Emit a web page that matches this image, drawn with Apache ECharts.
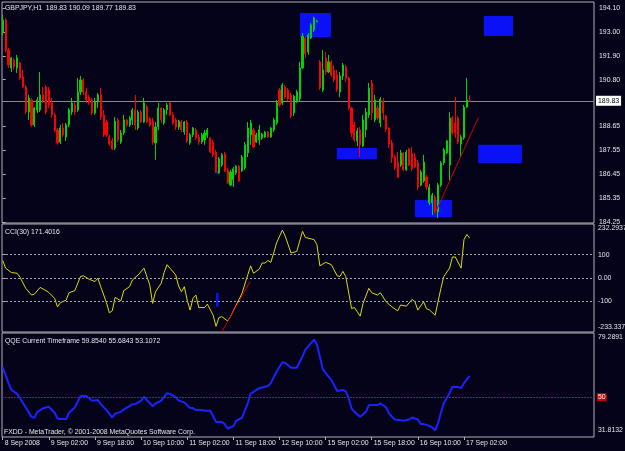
<!DOCTYPE html>
<html><head><meta charset="utf-8">
<script src="https://cdn.jsdelivr.net/npm/echarts@6/dist/echarts.min.js"></script>
<style>html,body{margin:0;padding:0;background:#04031a;}#c{width:625px;height:451px;}</style>
</head><body><div id="c"></div>
<script>
// ---- price data (GBPJPY H1), one entry per bar ----
const opens = [
192.95,193.55,192.17,191.34,191.71,191.34,191.57,190.93,190.46,189.31,
189.87,188.72,189.41,189.41,190.10,190.46,190.33,189.73,189.18,188.49,
187.93,188.58,188.16,188.72,189.31,189.64,189.41,190.23,190.79,190.23,
190.00,189.87,189.27,189.77,190.10,189.18,188.85,188.16,187.98,187.66,
188.95,187.93,188.35,188.95,188.72,188.95,189.41,188.58,189.31,188.85,
189.54,189.00,188.90,187.89,188.62,189.50,188.81,189.41,189.73,189.18,
188.95,188.62,188.85,188.39,188.85,187.89,188.26,188.49,188.16,187.93,
188.03,188.26,188.12,187.93,187.47,186.51,186.87,187.38,186.65,185.95,
186.20,186.51,186.82,186.60,186.74,187.43,188.26,188.49,187.93,188.03,
188.12,188.16,188.39,188.16,188.49,188.81,190.33,189.73,190.46,190.33,
190.10,189.27,189.82,189.91,191.34,192.72,192.07,192.72,193.09,193.46,
191.62,190.33,191.80,191.15,191.62,191.25,191.02,190.23,190.97,191.40,
190.88,189.50,188.72,187.98,188.49,187.75,188.49,189.18,190.65,188.95,
189.50,188.81,189.82,189.13,188.58,187.89,187.24,187.01,186.87,187.43,
186.65,187.61,187.40,187.24,186.97,185.95,186.14,186.32,185.13,185.13,
185.40,184.71,185.95,186.97,187.43,186.87,189.04,188.81,189.04,187.84,
188.12,189.54,189.83];
const closes = [
193.55,192.17,191.48,191.80,191.40,191.80,190.88,190.46,189.31,189.96,
188.72,189.50,189.87,190.10,189.87,189.31,189.64,189.18,188.49,187.89,
188.58,188.26,188.72,189.41,189.73,189.31,190.23,190.79,190.23,189.87,
189.77,189.27,189.77,190.10,189.08,188.26,188.26,187.84,187.61,188.90,
188.03,188.35,188.95,188.72,189.04,189.41,188.72,189.31,188.85,189.73,
188.85,188.72,187.93,188.62,189.50,188.95,189.41,189.64,189.18,188.81,
188.62,188.90,188.49,188.85,187.98,188.26,188.58,188.12,187.93,188.26,
188.35,188.49,187.47,187.34,186.55,187.15,187.34,186.60,186.05,186.55,
186.70,186.82,186.14,187.24,187.80,188.58,188.81,187.70,188.26,188.49,
188.30,188.39,188.16,188.58,188.95,189.73,189.64,190.56,190.00,189.91,
189.13,190.05,190.23,191.34,192.80,191.99,192.86,193.32,193.64,193.50,
190.42,191.25,191.15,191.62,191.02,190.79,190.33,190.97,191.48,190.88,
189.50,188.35,188.03,188.44,187.80,188.95,189.31,190.42,189.27,189.87,
189.04,189.91,189.27,188.53,187.84,187.20,186.74,186.32,187.43,186.65,
187.47,186.87,186.70,186.78,185.86,186.55,187.01,185.86,185.86,185.49,
184.75,185.95,186.97,187.57,187.98,189.04,188.35,188.35,187.93,188.16,
189.54,189.87,189.83];
const lows = [
192.86,192.07,191.34,191.15,191.25,191.11,190.79,190.42,189.22,188.95,
188.62,188.62,189.27,189.31,189.73,189.22,189.50,189.04,188.39,187.80,
187.84,188.16,187.98,188.62,189.18,189.18,189.31,190.10,190.10,189.73,
189.64,189.18,189.18,189.50,188.95,188.16,188.16,187.75,187.57,187.57,
187.93,187.84,188.26,188.62,188.62,188.72,188.49,188.49,188.81,188.81,
188.81,188.62,187.80,187.11,188.49,188.81,188.72,189.18,189.13,188.72,
188.49,188.49,188.39,188.26,187.89,187.80,188.16,188.03,187.80,187.84,
187.80,188.12,187.43,187.24,186.51,186.46,186.78,186.55,186.00,185.90,
185.86,186.41,186.09,186.55,186.65,187.24,187.80,187.66,187.89,187.80,
188.03,188.12,188.12,188.12,188.39,188.72,189.54,189.64,189.91,189.82,
189.04,189.13,189.73,189.82,191.30,191.80,191.94,192.68,193.00,193.46,
190.33,190.23,191.02,191.11,190.93,190.69,190.23,190.00,190.79,190.69,
189.41,188.16,187.93,187.75,187.24,187.70,188.16,189.04,188.95,188.85,
188.95,188.62,188.95,188.39,187.66,186.97,186.65,186.28,186.78,186.60,
186.60,186.82,186.60,186.74,185.72,185.90,186.05,185.72,185.03,184.57,
184.66,184.43,185.86,186.87,187.38,186.18,188.26,188.12,187.84,187.24,
188.03,189.50,189.77];
const highs = [
193.78,193.64,192.26,191.85,191.80,191.94,191.62,191.25,190.56,190.10,
189.96,189.54,190.00,191.15,190.46,190.56,190.46,189.96,189.27,188.58,
188.72,188.81,188.81,189.50,189.96,189.77,190.88,190.97,190.88,190.42,
190.10,189.96,189.96,190.19,190.42,189.41,188.95,188.26,188.12,189.08,
189.04,188.49,189.18,189.00,189.13,189.50,190.10,189.41,189.41,189.96,
189.64,189.08,189.04,188.85,189.73,189.54,189.50,189.73,189.77,189.31,
189.04,188.95,188.95,188.90,188.95,188.35,188.62,188.58,188.26,188.35,
188.49,188.58,188.16,188.03,187.57,187.24,187.43,187.47,186.74,186.65,
186.78,186.87,186.87,187.34,187.93,188.85,188.95,188.58,188.35,188.72,
188.35,188.44,188.44,188.62,189.04,189.87,190.42,190.65,190.56,190.42,
190.19,190.10,190.33,191.62,192.95,192.77,192.95,193.40,193.70,193.55,
191.71,192.17,192.07,191.94,191.71,191.48,191.25,191.15,191.57,191.48,
190.93,189.54,188.85,188.58,188.62,189.18,189.50,190.65,190.79,190.10,
189.64,190.00,189.96,189.18,188.62,188.03,187.34,187.47,187.57,187.47,
187.57,187.66,187.70,187.43,187.11,186.65,187.34,186.41,186.00,185.59,
185.49,186.05,187.06,187.66,188.03,189.31,189.13,190.00,189.13,188.26,
189.64,190.88,190.09];
const lastPrice = 189.83;

// ---- CCI(30) read points [bar, value] ----
const cciPoints = [[0,75],[1,42],[3,23],[5,20],[6,3],[8,-45],[10,-74],[11,-70],[13,-41],[15,-55],[16,-63],[18,-88],[19,-125],[20,-107],[22,-96],[23,-64],[25,-55],[27,6],[28,9],[30,-6],[32,-16],[33,-1],[34,-38],[36,-107],[37,-151],[38,-142],[39,-84],[41,-99],[42,-55],[44,-38],[45,-9],[47,13],[49,42],[51,-30],[52,-110],[53,-60],[55,-23],[56,23],[57,57],[58,42],[60,13],[61,-35],[62,-60],[63,-38],[64,-96],[65,-139],[66,-88],[67,-74],[68,-128],[70,-128],[71,-113],[73,-161],[74,-209],[75,-171],[76,-167],[78,-186],[79,-167],[81,-117],[83,-67],[85,13],[86,52],[87,20],[89,38],[90,64],[91,64],[92,75],[93,67],[94,107],[95,151],[97,206],[98,180],[100,107],[102,114],[104,201],[105,174],[107,168],[108,165],[109,143],[110,52],[112,67],[114,57],[116,9],[117,6],[118,28],[119,6],[121,-132],[122,-128],[124,-165],[125,-110],[127,-45],[128,-64],[130,-74],[131,-64],[133,-103],[135,-125],[137,-142],[138,-117],[140,-122],[142,-93],[143,-103],[144,-139],[146,-103],[147,-133],[148,-138],[150,-161],[151,-103],[152,-45],[153,6],[155,42],[156,90],[157,90],[159,42],[160,165],[161,187],[162,171]];
const cciLevels = [100, 0, -100];

// ---- QQE read points [bar, value] ----
const qqePoints = [[0,63.7],[2,56.4],[3,53.3],[5,51.5],[6,49.5],[8,45.3],[10,41.0],[11,40.6],[12,43.3],[14,44.9],[16,45.6],[18,42.9],[19,40.3],[20,40.0],[22,40.0],[23,42.9],[25,45.3],[27,50.5],[28,50.5],[29,50.5],[31,48.4],[33,48.7],[34,46.8],[36,44.1],[38,40.7],[39,42.5],[41,43.3],[42,44.4],[44,45.9],[45,46.8],[46,46.8],[48,48.4],[49,50.2],[50,48.7],[52,45.9],[53,47.1],[55,48.4],[57,51.8],[58,51.5],[60,50.0],[61,48.4],[63,47.6],[65,45.0],[66,45.0],[67,44.1],[69,44.1],[70,43.8],[72,43.8],[73,41.3],[74,38.7],[76,38.7],[77,37.7],[78,35.7],[80,36.7],[81,39.2],[83,40.6],[85,47.2],[86,51.6],[87,52.4],[89,54.1],[92,55.1],[93,56.4],[95,61.7],[97,65.9],[98,65.6],[100,63.4],[102,63.4],[104,68.6],[105,71.7],[107,74.8],[108,76.3],[109,74.0],[110,68.6],[111,62.8],[113,59.4],[114,57.9],[116,52.8],[118,53.3],[119,52.6],[120,49.5],[121,44.9],[122,43.3],[124,41.0],[125,42.2],[126,43.3],[127,46.4],[128,46.4],[130,46.4],[131,47.2],[133,45.3],[134,42.5],[136,39.8],[138,39.5],[139,39.2],[141,39.8],[142,40.7],[144,39.8],[145,37.7],[146,37.7],[148,36.9],[149,36.1],[150,34.9],[151,38.0],[152,43.0],[153,47.2],[155,51.8],[156,54.8],[158,54.6],[159,54.2],[160,56.4],[162,59.7]];
const qqeLevel = 50;

// ---- analyst drawings (bar, price) ----
const boxBars   = [[103.1,113.9],[166.9,177.0],[115.9,129.8],[164.9,180.1],[143.0,155.8],[74.1,75.0]];
const boxPrices = [[193.87,192.77],[193.73,192.81],[187.66,187.15],[187.80,186.97],[185.26,184.48],[186.60,186.46]];
const trendBars = [149.95, 165.0];
const trendPrices = [184.65, 189.06];
const cciTrendBars = [76.0, 85.8];
const cciTrendValues = [-233, -16];
const cciMarkBars = [74.0, 74.9];
const cciMarkValues = [-64, -125];

// ---- axis ticks ----
const priceTicks = [184.25,185.35,186.45,187.55,188.65,190.80,191.90,193.00,194.10];
const cciRange = [-233.3372, 232.2937];
const cciLabelTexts = ['232.2937','100','0.00','-100','-233.3372'];
const qqeRange = [31.8132, 79.2891];
const qqeLabelTexts = ['79.2891','31.8132'];
const timeTickBars = [0,16,32,48,64,80,96,112,128,144,160];
const timeTickLabels = ['8 Sep 2008','9 Sep 02:00','9 Sep 18:00','10 Sep 10:00','11 Sep 02:00','11 Sep 18:00','12 Sep 10:00','15 Sep 02:00','15 Sep 18:00','16 Sep 10:00','17 Sep 02:00'];

const FONT = 'Liberation Sans';
const FS = 6.9;
const TXT = '#e6e6e6';
const BORDER = '#b0b0b0';
const xMin = -0.243, xMax = 205.1;

const chart = echarts.init(document.getElementById('c'), null, {renderer:'canvas'});
const candleData = opens.map((o,i)=>[i, o, closes[i], lows[i], highs[i]]);

const gridBase = {left:2, width:592, show:true, borderColor:BORDER, borderWidth:1, backgroundColor:'transparent', outerBoundsMode:'none', containLabel:false};
const hiddenX = (g)=>({type:'value', gridIndex:g, min:xMin, max:xMax, show:false});

const option = {
  backgroundColor:'#04031a',
  animation:false,
  grid:[
    Object.assign({top:2, height:221}, gridBase),
    Object.assign({top:224, height:108}, gridBase),
    Object.assign({top:333, height:104}, gridBase)
  ],
  xAxis:[
    hiddenX(0), hiddenX(1),
    {type:'value', gridIndex:2, min:xMin, max:xMax,
      axisLine:{show:false}, splitLine:{show:false},
      axisTick:{show:true, customValues:timeTickBars, length:3, lineStyle:{color:BORDER}},
      axisLabel:{show:true, customValues:timeTickBars, color:TXT, fontFamily:FONT, fontSize:FS,
        align:'left', margin:3, padding:[0,0,0,2],
        formatter:(v)=>{const k=timeTickBars.indexOf(Math.round(v)); return k>=0?timeTickLabels[k]:'';}}
    }
  ],
  yAxis:[
    {type:'value', gridIndex:0, position:'right', min:184.204, max:194.376,
      splitLine:{show:false}, axisLine:{show:false},
      axisTick:{show:true, customValues:priceTicks, length:3, lineStyle:{color:BORDER}},
      axisLabel:{customValues:priceTicks, color:TXT, fontFamily:FONT, fontSize:FS, margin:5,
        formatter:(v)=>v.toFixed(2)}},
    {type:'value', gridIndex:1, position:'right', min:cciRange[0], max:cciRange[1],
      splitLine:{show:false}, axisLine:{show:false},
      axisTick:{show:true, customValues:cciLevels, length:3, lineStyle:{color:BORDER}},
      axisLabel:{customValues:[213.7, 100, 0, -100, -212.8], color:TXT, fontFamily:FONT, fontSize:FS, margin:4,
        formatter:(v)=> v>150?cciLabelTexts[0]: v>50?cciLabelTexts[1]: v>-50?cciLabelTexts[2]: v>-150?cciLabelTexts[3]:cciLabelTexts[4]}},
    {type:'value', gridIndex:2, position:'right', min:qqeRange[0], max:qqeRange[1],
      splitLine:{show:false}, axisLine:{show:false},
      axisTick:{show:false},
      axisLabel:{customValues:[77.3, 35.0], color:TXT, fontFamily:FONT, fontSize:FS, margin:4,
        formatter:(v)=> v>60?qqeLabelTexts[0]:qqeLabelTexts[1]}}
  ],
  series:[
    {type:'line', name:'boxes', xAxisIndex:0, yAxisIndex:0, data:[], z:1, silent:true,
      markArea:{silent:true, itemStyle:{color:'#0a12f5', opacity:1},
        data: boxBars.map((b,k)=>[{coord:[b[0], boxPrices[k][0]]},{coord:[b[1], boxPrices[k][1]]}])}},
    {type:'candlestick', name:'GBPJPY', xAxisIndex:0, yAxisIndex:0, z:3, barWidth:1.6,
      data:candleData,
      itemStyle:{color:'#00d400', color0:'#ff0000', borderColor:'#00d400', borderColor0:'#ff0000', borderWidth:1},
      markLine:{silent:true, symbol:['none','none'], z:2,
        lineStyle:{color:'#8a8a8a', width:1, type:'solid'},
        label:{show:true, position:'end', distance:2, formatter:()=>lastPrice.toFixed(2),
          color:'#000', backgroundColor:'#ffffff', padding:[2,2,1,2], fontFamily:FONT, fontSize:FS},
        data:[{yAxis:lastPrice}]}},
    {type:'line', name:'trend', xAxisIndex:0, yAxisIndex:0, z:4, symbol:'none', silent:true,
      data:trendBars.map((b,k)=>[b, trendPrices[k]]),
      lineStyle:{color:'#d00000', width:1}},
    {type:'line', name:'CCI', xAxisIndex:1, yAxisIndex:1, z:3, symbol:'none', silent:true,
      data:cciPoints, lineStyle:{color:'#dcdc00', width:1},
      markLine:{silent:true, symbol:['none','none'], label:{show:false},
        lineStyle:{color:'#a8a8a8', width:1, type:[2,2]},
        data:cciLevels.map(v=>({yAxis:v}))},
      markArea:{silent:true, itemStyle:{color:'#0a12f5'},
        data:[[{coord:[cciMarkBars[0], cciMarkValues[0]]},{coord:[cciMarkBars[1], cciMarkValues[1]]}]]}},
    {type:'line', name:'CCI trend', xAxisIndex:1, yAxisIndex:1, z:4, symbol:'none', silent:true,
      data:cciTrendBars.map((b,k)=>[b, cciTrendValues[k]]),
      lineStyle:{color:'#d00000', width:1}},
    {type:'line', name:'QQE', xAxisIndex:2, yAxisIndex:2, z:3, symbol:'none', silent:true,
      data:qqePoints, lineStyle:{color:'#1a22ff', width:2},
      markLine:{silent:true, symbol:['none','none'],
        lineStyle:{color:'#c80000', width:1, type:[2,1]},
        label:{show:true, position:'end', distance:3, formatter:()=>String(qqeLevel),
          color:'#ffffff', backgroundColor:'#d00000', padding:[1,1,0,1], fontFamily:FONT, fontSize:FS},
        data:[{yAxis:qqeLevel}]}}
  ],
  graphic:[
    {type:'text', x:5, y:8, silent:true, style:{text:'GBPJPY,H1  189.83 190.09 189.77 189.83', fill:TXT, font:FS+'px "'+FONT+'"', verticalAlign:'middle'}},
    {type:'text', x:5, y:232, silent:true, style:{text:'CCI(30) 171.4016', fill:TXT, font:FS+'px "'+FONT+'"', verticalAlign:'middle'}},
    {type:'text', x:5, y:341, silent:true, style:{text:'QQE Current Timeframe 59.8540 55.6843 53.1072', fill:TXT, font:FS+'px "'+FONT+'"', verticalAlign:'middle'}},
    {type:'text', x:4, y:432, silent:true, style:{text:'FXDD - MetaTrader, © 2001-2008 MetaQuotes Software Corp.', fill:TXT, font:FS+'px "'+FONT+'"', verticalAlign:'middle'}}
  ]
};
chart.setOption(option);
</script>
</body></html>
